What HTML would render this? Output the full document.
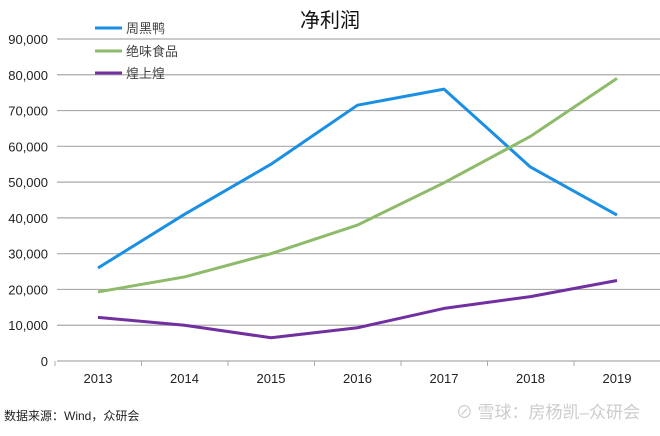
<!DOCTYPE html>
<html><head><meta charset="utf-8"><style>
body{margin:0;background:#fff;}
svg text{font-family:"Liberation Sans","Noto Sans CJK SC",sans-serif;}
</style></head><body>
<svg width="660" height="431" xmlns="http://www.w3.org/2000/svg">
<g id="grid"></g><g id="lines"></g>
<text x="330" y="27" text-anchor="middle" font-size="20" fill="#111">净利润</text>
<g>
<line x1="95" y1="28" x2="122" y2="28" stroke="#1a8fe3" stroke-width="3"/>
<text x="126" y="33" font-size="13" fill="#444">周黑鸭</text>
<line x1="95" y1="51" x2="122" y2="51" stroke="#8dbb6a" stroke-width="3"/>
<text x="126" y="56" font-size="13" fill="#444">绝味食品</text>
<line x1="95" y1="73" x2="122" y2="73" stroke="#7030a0" stroke-width="3"/>
<text x="126" y="78" font-size="13" fill="#444">煌上煌</text>
</g>
<text x="4" y="420" font-size="12" fill="#222">数据来源：Wind，众研会</text>
<text x="640" y="418" text-anchor="end" font-size="17" fill="#ccc">⊘ 雪球：房杨凯–众研会</text>
</svg>
<script>
const categories=["2013","2014","2015","2016","2017","2018","2019"];
const zhouheiya=[26000,41000,55000,71500,76000,54200,40800];
const juewei=[19300,23500,30000,38000,49800,62800,79000];
const huangshanghuang=[12200,10000,6500,9300,14700,18000,22500];
const yTicks=[0,10000,20000,30000,40000,50000,60000,70000,80000,90000];
const NS="http://www.w3.org/2000/svg";
const x=i=>98+i*86.5;
const y=v=>361-v*(322/90000);
const grid=document.getElementById('grid'), lines=document.getElementById('lines');
function mk(tag,attrs,parent){const e=document.createElementNS(NS,tag);for(const k in attrs)e.setAttribute(k,attrs[k]);parent.appendChild(e);return e;}
yTicks.forEach(t=>{
  const l=mk('line',{x1:57,x2:660,y1:y(t),y2:y(t),stroke:'#aaa','stroke-width':1.2},grid);
  
  
  const tx=mk('text',{x:48,y:y(t)+5,'text-anchor':'end','font-size':13,fill:'#222'},grid);
  tx.textContent=t.toLocaleString('en-US');
  
  
});
for(let i=0;i<=categories.length;i++){
  const tk=mk('line',{x1:x(i)-43,x2:x(i)-43,y1:361,y2:366,stroke:'#aaa','stroke-width':1},grid);
  
  
}
categories.forEach((c,i)=>{
  const tx=mk('text',{x:x(i),y:383,'text-anchor':'middle','font-size':13,fill:'#222'},grid);
  tx.textContent=c;
  
  
});
[[zhouheiya,'#1a8fe3','series-zhouheiya'],[juewei,'#8dbb6a','series-juewei'],[huangshanghuang,'#7030a0','series-huangshanghuang']].forEach(([d,c,n])=>{
  const p=mk('polyline',{points:d.map((v,i)=>x(i)+','+y(v)).join(' '),fill:'none',stroke:c,'stroke-width':3,'stroke-linejoin':'round'},lines);
  
  
});
</script>
</body></html>
